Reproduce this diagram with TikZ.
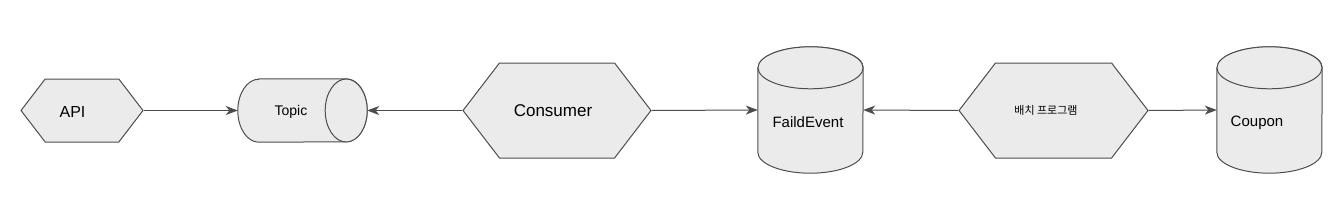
\documentclass[tikz,border=0pt]{standalone}
\usepackage{fontspec}
\setmainfont{Liberation Sans}
\newfontfamily\krfont{Noto Sans CJK KR}
\usetikzlibrary{shapes.symbols, arrows.meta}
\definecolor{boxfill}{HTML}{EBEBEB}
\definecolor{boxline}{HTML}{4D4D4D}

\begin{document}
\begin{tikzpicture}[x=1pt, y=-1pt,
    hexa/.style={signal, signal to=east and west, signal pointer angle=105, draw=boxline, fill=boxfill, line width=1pt, inner sep=0pt},
    drumbox/.style={rectangle, inner sep=0pt},
    drumline/.style={draw=boxline, fill=boxfill, line width=1pt},
    flow/.style={draw=boxline, line width=1pt, -{Stealth[length=12pt, width=9pt, inset=3.5pt]}}]
    \useasboundingbox (0,0) rectangle (1330,220);

    % Define services
    \node[hexa, minimum width=122pt, minimum height=63pt,
          label={[font=\fontsize{16}{18}\selectfont, xshift=-9.5pt, yshift=-1pt]center:API}] (api) at (82,110.5) {};
    \node[hexa, minimum width=188pt, minimum height=95pt,
          label={[font=\fontsize{17}{19}\selectfont, xshift=-4pt, yshift=-0.5pt]center:Consumer}] (consumer) at (557,110.5) {};
    \node[hexa, minimum width=189pt, minimum height=95pt,
          label={[font=\krfont\fontsize{11}{13}\selectfont, xshift=-7.5pt]center:배치 프로그램}] (batch) at (1053.5,110.5) {};

    % Define stores
    \node[drumbox, minimum width=129pt, minimum height=63pt] (topic) at (302.5,110.5) {};
    \node[drumbox, minimum width=105pt, minimum height=126pt] (failed) at (810.5,110) {};
    \node[drumbox, minimum width=105pt, minimum height=126pt] (coupon) at (1269.5,110) {};

    % Draw cylinders
    \path[drumline] ([xshift=21pt]topic.north west) -- ([xshift=-21pt]topic.north east)
        arc[start angle=90, end angle=-90, x radius=21pt, y radius=31.5pt]
        -- ([xshift=21pt]topic.south west)
        arc[start angle=270, end angle=90, x radius=21pt, y radius=31.5pt] -- cycle;
    \path[drumline] ([xshift=-21pt]topic.east) ellipse[x radius=21pt, y radius=31.5pt];
    \foreach \n in {failed, coupon} {
        \path[drumline] ([yshift=-21pt]\n.north west) -- ([yshift=21pt]\n.south west)
            arc[start angle=180, end angle=360, x radius=52.5pt, y radius=21pt]
            -- ([yshift=-21pt]\n.north east)
            arc[start angle=0, end angle=180, x radius=52.5pt, y radius=21pt] -- cycle;
        \path[drumline] ([yshift=-21pt]\n.north) ellipse[x radius=52.5pt, y radius=21pt];
    }
    \node[font=\fontsize{14}{16}\selectfont] (topictext) at ([xshift=-11.5pt, yshift=-1.5pt]topic.center) {Topic};
    \node[font=\fontsize{15}{17}\selectfont] (failedtext) at ([xshift=-2.5pt, yshift=-11.7pt]failed.center) {FaildEvent};
    \node[font=\fontsize{15}{17}\selectfont] (coupontext) at ([xshift=-12.5pt, yshift=-13.3pt]coupon.center) {Coupon};

    % Draw message flow
    \draw[flow] (api.east) -- (topic.west);
    \draw[flow] (consumer.west) -- (topic.east);
    \draw[flow] (consumer.east) -- (failed.west);
    \draw[flow] (batch.west) -- (failed.east);
    \draw[flow] (batch.east) -- (coupon.west);
\end{tikzpicture}
\end{document}
